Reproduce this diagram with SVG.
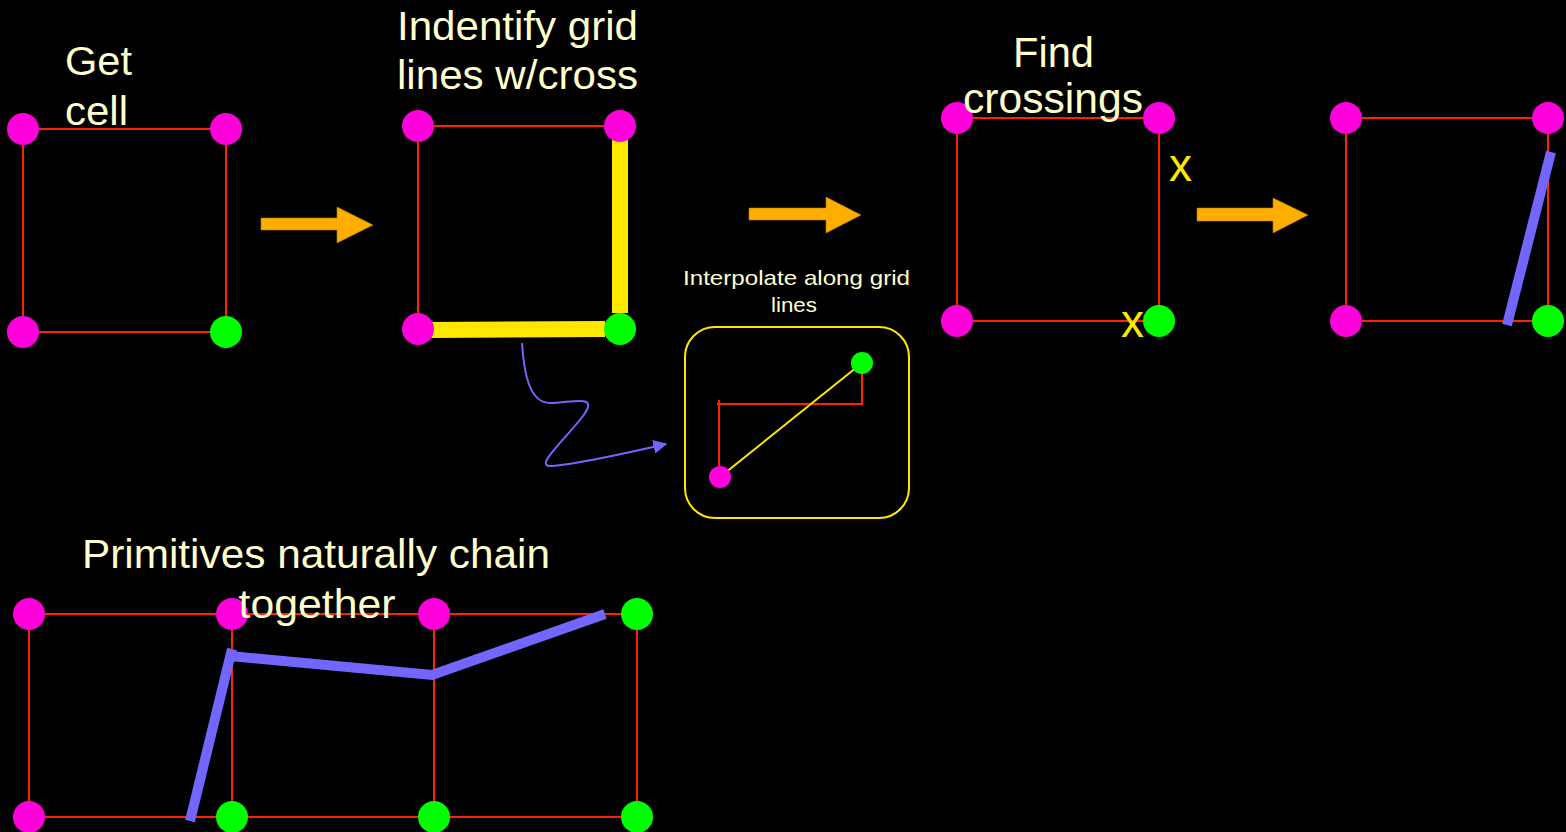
<svg xmlns="http://www.w3.org/2000/svg" width="1566" height="832" viewBox="0 0 1566 832">
  <defs>
    <style>
      .title { font-family: "Liberation Sans", Arial, sans-serif; fill: #FFFFCC; }
      .grid { stroke: #FF2200; stroke-width: 2; fill: none; }
      .mag { fill: #FF00DD; }
      .grn { fill: #00FF00; }
      .flow { fill: #FFAE00; stroke: #B87E00; stroke-width: 0.6; }
      .edge { stroke: #FFE800; stroke-width: 16; stroke-linecap: butt; }
      .iso { stroke: #7366FF; stroke-width: 10; fill: none; stroke-linecap: butt; stroke-linejoin: miter; }
      .mark { font-family: "Liberation Sans", Arial, sans-serif; fill: #FFE800; font-size: 46px; }
    </style>
    <marker id="tip" viewBox="0 0 10 10" refX="9" refY="5" markerWidth="7" markerHeight="7" orient="auto" markerUnits="strokeWidth">
      <path d="M0,0 L10,5 L0,10 Z" fill="#7366FF"/>
    </marker>
  </defs>
  <rect width="1566" height="832" fill="#000000"/>

  <!-- Step 1: get cell -->
  <g id="step-get-cell">
    <text class="title" x="65" y="75" font-size="41" textLength="67" lengthAdjust="spacingAndGlyphs">Get</text>
    <text class="title" x="65" y="125" font-size="41" textLength="63" lengthAdjust="spacingAndGlyphs">cell</text>
    <rect class="grid" x="23" y="129" width="203" height="203"/>
    <circle class="mag" cx="23" cy="129" r="16"/>
    <circle class="mag" cx="226" cy="129" r="16"/>
    <circle class="mag" cx="23" cy="332" r="16"/>
    <circle class="grn" cx="226" cy="332" r="16"/>
  </g>

  <!-- Step 2: identify grid lines with a crossing -->
  <g id="step-identify">
    <text class="title" x="517.5" y="40" font-size="40" text-anchor="middle" textLength="241" lengthAdjust="spacingAndGlyphs">Indentify grid</text>
    <text class="title" x="517.5" y="89" font-size="40" text-anchor="middle" textLength="241" lengthAdjust="spacingAndGlyphs">lines w/cross</text>
    <rect class="grid" x="418" y="126" width="202" height="203"/>
    <line class="edge" x1="620" y1="138" x2="620" y2="313"/>
    <line class="edge" x1="430" y1="330" x2="605" y2="329"/>
    <circle class="mag" cx="418" cy="126" r="16"/>
    <circle class="mag" cx="620" cy="126" r="16"/>
    <circle class="mag" cx="418" cy="329" r="16"/>
    <circle class="grn" cx="620" cy="329" r="16"/>
  </g>

  <!-- Inset: interpolation along a grid line -->
  <g id="inset-interpolate">
    <text class="title" x="796.5" y="285" font-size="21" text-anchor="middle" textLength="227" lengthAdjust="spacingAndGlyphs">Interpolate along grid</text>
    <text class="title" x="794" y="312" font-size="21" text-anchor="middle" textLength="46" lengthAdjust="spacingAndGlyphs">lines</text>
    <rect x="685" y="327" width="224" height="191" rx="30" ry="30" fill="none" stroke="#FFE800" stroke-width="2"/>
    <polyline points="719,467 719,400" fill="none" stroke="#FF2200" stroke-width="2"/>
    <polyline points="717,404 862,404 862,373" fill="none" stroke="#FF2200" stroke-width="2"/>
    <line x1="720" y1="477" x2="862" y2="363" stroke="#FFE800" stroke-width="2"/>
    <circle class="grn" cx="862" cy="363" r="11"/>
    <circle class="mag" cx="720" cy="477" r="11"/>
  </g>

  <!-- Step 3: find crossings -->
  <g id="step-find-crossings">
    <rect class="grid" x="957" y="118" width="202" height="203"/>
    <circle class="mag" cx="957" cy="118" r="16"/>
    <circle class="mag" cx="1159" cy="118" r="16"/>
    <circle class="mag" cx="957" cy="321" r="16"/>
    <circle class="grn" cx="1159" cy="321" r="16"/>
    <text class="title" x="1053.5" y="67" font-size="42" text-anchor="middle" textLength="81" lengthAdjust="spacingAndGlyphs">Find</text>
    <text class="title" x="1053" y="113" font-size="42" text-anchor="middle" textLength="180" lengthAdjust="spacingAndGlyphs">crossings</text>
    <text class="mark" x="1169" y="181">x</text>
    <text class="mark" x="1121" y="337">x</text>
  </g>

  <!-- Step 4: emit the primitive -->
  <g id="step-primitive">
    <rect class="grid" x="1346" y="118" width="202" height="203"/>
    <circle class="mag" cx="1346" cy="118" r="16"/>
    <circle class="mag" cx="1548" cy="118" r="16"/>
    <circle class="mag" cx="1346" cy="321" r="16"/>
    <circle class="grn" cx="1548" cy="321" r="16"/>
    <line class="iso" x1="1551" y1="152" x2="1507" y2="325"/>
  </g>

  <!-- Chained primitives across three cells -->
  <g id="chain">
    <text class="title" x="316" y="568" font-size="40" text-anchor="middle" textLength="468" lengthAdjust="spacingAndGlyphs">Primitives naturally chain</text>
    <path class="grid" d="M29,614 H637 V817 H29 Z M232,614 V817 M434,614 V817"/>
    <circle class="mag" cx="29" cy="614" r="16"/>
    <circle class="mag" cx="232" cy="614" r="16"/>
    <circle class="mag" cx="434" cy="614" r="16"/>
    <circle class="grn" cx="637" cy="614" r="16"/>
    <circle class="mag" cx="29" cy="817" r="16"/>
    <circle class="grn" cx="232" cy="817" r="16"/>
    <circle class="grn" cx="434" cy="817" r="16"/>
    <circle class="grn" cx="637" cy="817" r="16"/>
    <text class="title" x="317" y="618" font-size="40" text-anchor="middle" textLength="157" lengthAdjust="spacingAndGlyphs">together</text>
    <line class="iso" x1="190" y1="821" x2="232" y2="649"/>
    <polyline class="iso" points="230,656 432,675 605,614"/>
  </g>

  <!-- Connectors -->
  <g id="connectors">
    <polygon class="flow" points="261,218 337,218 337,207 373,225 337,243 337,230 261,230"/>
    <polygon class="flow" points="749,208 826,208 826,197 861,215 826,233 826,220 749,220"/>
    <polygon class="flow" points="1197,208 1273,208 1273,198 1308,215 1273,233 1273,221 1197,221"/>
    <path d="M522,343 C524,375 530,403 550,403 C572,403 600,393 583,416 C562,443 532,468 553,466 C590,462 630,452 666,444" fill="none" stroke="#7366FF" stroke-width="2" marker-end="url(#tip)"/>
  </g>
</svg>
